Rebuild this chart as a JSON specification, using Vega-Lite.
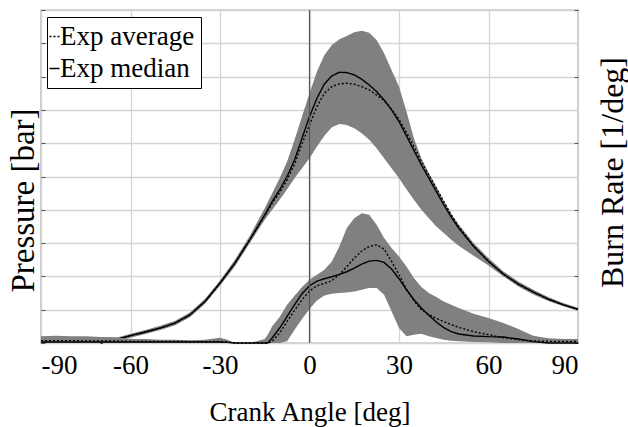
{
  "$schema": "https://vega.github.io/schema/vega-lite/v6.json",
  "width": 537,
  "height": 333,
  "autosize": {"type": "none"},
  "padding": {"left": 41, "top": 10, "right": 50, "bottom": 84},
  "background": "white",
  "config": {
    "font": "Liberation Serif",
    "view": {"stroke": "#555555", "strokeWidth": 1.2},
    "axis": {
      "labelFont": "Liberation Serif",
      "titleFont": "Liberation Serif",
      "labelColor": "black",
      "titleColor": "black",
      "titleFontWeight": "normal",
      "gridColor": "#d4d4d4",
      "gridWidth": 1.3,
      "domain": false,
      "tickColor": "#555555"
    },
    "legend": {
      "labelFont": "Liberation Serif"
    }
  },
  "datasets": {
    "pressure": [
      {"deg": -70, "med": 0, "avg": 0, "lo": 0, "hi": 0.05},
      {"deg": -65, "med": 0.1, "avg": 0.1, "lo": 0.05, "hi": 0.15},
      {"deg": -60, "med": 0.22, "avg": 0.22, "lo": 0.16, "hi": 0.28},
      {"deg": -55, "med": 0.33, "avg": 0.33, "lo": 0.27, "hi": 0.39},
      {"deg": -50, "med": 0.45, "avg": 0.45, "lo": 0.39, "hi": 0.52},
      {"deg": -45, "med": 0.6, "avg": 0.6, "lo": 0.53, "hi": 0.67},
      {"deg": -40, "med": 0.85, "avg": 0.85, "lo": 0.78, "hi": 0.92},
      {"deg": -35, "med": 1.25, "avg": 1.25, "lo": 1.18, "hi": 1.33},
      {"deg": -30, "med": 1.8, "avg": 1.8, "lo": 1.72, "hi": 1.88},
      {"deg": -25, "med": 2.4, "avg": 2.4, "lo": 2.3, "hi": 2.5},
      {"deg": -20, "med": 3.1, "avg": 3.1, "lo": 3.0, "hi": 3.22},
      {"deg": -15, "med": 3.85, "avg": 3.82, "lo": 3.7, "hi": 4.05},
      {"deg": -12.5, "med": 4.25, "avg": 4.2, "lo": 4.0, "hi": 4.5},
      {"deg": -10, "med": 4.6, "avg": 4.52, "lo": 4.3, "hi": 4.95},
      {"deg": -7.5, "med": 5.0, "avg": 4.9, "lo": 4.62, "hi": 5.45},
      {"deg": -5, "med": 5.5, "avg": 5.38, "lo": 4.95, "hi": 6.1},
      {"deg": -2.5, "med": 6.15, "avg": 5.98, "lo": 5.25, "hi": 6.8},
      {"deg": 0, "med": 6.8, "avg": 6.55, "lo": 5.55, "hi": 7.5},
      {"deg": 2.5, "med": 7.35, "avg": 7.1, "lo": 5.9, "hi": 8.15},
      {"deg": 5, "med": 7.78, "avg": 7.5, "lo": 6.22, "hi": 8.65},
      {"deg": 7.5, "med": 8.02, "avg": 7.7, "lo": 6.48, "hi": 8.95},
      {"deg": 10, "med": 8.13, "avg": 7.78, "lo": 6.58, "hi": 9.12},
      {"deg": 12.5, "med": 8.12, "avg": 7.8, "lo": 6.55, "hi": 9.22},
      {"deg": 15, "med": 8.05, "avg": 7.77, "lo": 6.45, "hi": 9.33},
      {"deg": 17.5, "med": 7.92, "avg": 7.7, "lo": 6.3, "hi": 9.38},
      {"deg": 20, "med": 7.75, "avg": 7.6, "lo": 6.1, "hi": 9.32},
      {"deg": 22.5, "med": 7.55, "avg": 7.45, "lo": 5.85, "hi": 9.1},
      {"deg": 25, "med": 7.3, "avg": 7.28, "lo": 5.55, "hi": 8.7},
      {"deg": 27.5, "med": 7.0, "avg": 7.02, "lo": 5.25, "hi": 8.2},
      {"deg": 30, "med": 6.65, "avg": 6.72, "lo": 4.95, "hi": 7.7},
      {"deg": 32.5, "med": 6.22, "avg": 6.32, "lo": 4.62, "hi": 6.95},
      {"deg": 35, "med": 5.78, "avg": 5.9, "lo": 4.3, "hi": 6.15},
      {"deg": 37.5, "med": 5.35, "avg": 5.45, "lo": 4.0, "hi": 5.55},
      {"deg": 40, "med": 4.95, "avg": 5.05, "lo": 3.75, "hi": 5.1},
      {"deg": 42.5, "med": 4.55, "avg": 4.65, "lo": 3.5, "hi": 4.7},
      {"deg": 45, "med": 4.15, "avg": 4.25, "lo": 3.3, "hi": 4.28},
      {"deg": 47.5, "med": 3.78, "avg": 3.85, "lo": 3.1, "hi": 3.88},
      {"deg": 50, "med": 3.45, "avg": 3.5, "lo": 2.92, "hi": 3.56},
      {"deg": 55, "med": 2.9, "avg": 2.92, "lo": 2.62, "hi": 3.0},
      {"deg": 60, "med": 2.45, "avg": 2.45, "lo": 2.33, "hi": 2.55},
      {"deg": 65, "med": 2.07, "avg": 2.07, "lo": 2.0, "hi": 2.15},
      {"deg": 70, "med": 1.77, "avg": 1.77, "lo": 1.7, "hi": 1.85},
      {"deg": 75, "med": 1.53, "avg": 1.53, "lo": 1.46, "hi": 1.6},
      {"deg": 80, "med": 1.32, "avg": 1.32, "lo": 1.26, "hi": 1.38},
      {"deg": 85, "med": 1.15, "avg": 1.15, "lo": 1.1, "hi": 1.2},
      {"deg": 90, "med": 1.01, "avg": 1.01, "lo": 0.97, "hi": 1.06}
    ],
    "burn": [
      {"deg": -90, "med": 0.03, "avg": 0.07, "lo": 0, "hi": 0.2},
      {"deg": -85, "med": 0.03, "avg": 0.07, "lo": 0, "hi": 0.22},
      {"deg": -80, "med": 0.03, "avg": 0.07, "lo": 0, "hi": 0.2},
      {"deg": -75, "med": 0.03, "avg": 0.06, "lo": 0, "hi": 0.2},
      {"deg": -70, "med": 0.03, "avg": 0.06, "lo": 0, "hi": 0.18},
      {"deg": -65, "med": 0.03, "avg": 0.06, "lo": 0, "hi": 0.17},
      {"deg": -60, "med": 0.03, "avg": 0.05, "lo": 0, "hi": 0.12},
      {"deg": -55, "med": 0.03, "avg": 0.05, "lo": 0, "hi": 0.12},
      {"deg": -50, "med": 0.03, "avg": 0.05, "lo": 0, "hi": 0.1},
      {"deg": -45, "med": 0.03, "avg": 0.05, "lo": 0, "hi": 0.1},
      {"deg": -40, "med": 0.03, "avg": 0.04, "lo": 0, "hi": 0.08},
      {"deg": -35, "med": 0.03, "avg": 0.04, "lo": 0, "hi": 0.1},
      {"deg": -30, "med": 0.03, "avg": 0.05, "lo": 0, "hi": 0.16},
      {"deg": -27.5, "med": 0.02, "avg": 0.03, "lo": 0, "hi": 0.1},
      {"deg": -25, "med": 0, "avg": 0, "lo": 0, "hi": 0},
      {"deg": -20, "med": 0, "avg": 0, "lo": 0, "hi": 0},
      {"deg": -15, "med": 0, "avg": 0, "lo": 0, "hi": 0.12},
      {"deg": -14, "med": 0, "avg": 0, "lo": 0, "hi": 0.25},
      {"deg": -12.5, "med": 0.15, "avg": 0.05, "lo": 0, "hi": 0.5},
      {"deg": -10, "med": 0.45, "avg": 0.3, "lo": 0, "hi": 0.78},
      {"deg": -7.5, "med": 0.8, "avg": 0.65, "lo": 0.05, "hi": 1.15},
      {"deg": -5, "med": 1.15, "avg": 0.98, "lo": 0.4, "hi": 1.42},
      {"deg": -2.5, "med": 1.48, "avg": 1.3, "lo": 0.72, "hi": 1.68},
      {"deg": 0, "med": 1.72, "avg": 1.56, "lo": 1.02, "hi": 1.9},
      {"deg": 2.5, "med": 1.86, "avg": 1.72, "lo": 1.28, "hi": 2.05},
      {"deg": 5, "med": 1.93, "avg": 1.79, "lo": 1.43, "hi": 2.2},
      {"deg": 7.5, "med": 1.99, "avg": 1.87, "lo": 1.48, "hi": 2.45},
      {"deg": 10, "med": 2.06, "avg": 2.05, "lo": 1.5, "hi": 2.9},
      {"deg": 12.5, "med": 2.14, "avg": 2.29, "lo": 1.52, "hi": 3.45},
      {"deg": 15, "med": 2.25, "avg": 2.55, "lo": 1.55, "hi": 3.75},
      {"deg": 17.5, "med": 2.37, "avg": 2.76, "lo": 1.6, "hi": 3.9},
      {"deg": 20, "med": 2.46, "avg": 2.9, "lo": 1.65, "hi": 3.85},
      {"deg": 22.5, "med": 2.48, "avg": 2.95, "lo": 1.65, "hi": 3.55},
      {"deg": 25, "med": 2.42, "avg": 2.82, "lo": 1.45, "hi": 3.15},
      {"deg": 27.5, "med": 2.22, "avg": 2.45, "lo": 0.95, "hi": 2.85},
      {"deg": 30, "med": 1.93, "avg": 2.05, "lo": 0.45, "hi": 2.6},
      {"deg": 32.5, "med": 1.6, "avg": 1.62, "lo": 0.2, "hi": 2.3},
      {"deg": 35, "med": 1.3, "avg": 1.27, "lo": 0.25, "hi": 1.95},
      {"deg": 37.5, "med": 1.05, "avg": 1.0, "lo": 0.28, "hi": 1.68},
      {"deg": 40, "med": 0.83, "avg": 0.85, "lo": 0.2, "hi": 1.5},
      {"deg": 42.5, "med": 0.63, "avg": 0.74, "lo": 0.15, "hi": 1.38},
      {"deg": 45, "med": 0.46, "avg": 0.64, "lo": 0.1, "hi": 1.25},
      {"deg": 47.5, "med": 0.34, "avg": 0.55, "lo": 0.07, "hi": 1.15},
      {"deg": 50, "med": 0.27, "avg": 0.47, "lo": 0.05, "hi": 1.05},
      {"deg": 55, "med": 0.21, "avg": 0.34, "lo": 0.03, "hi": 0.88},
      {"deg": 60, "med": 0.19, "avg": 0.25, "lo": 0.02, "hi": 0.75},
      {"deg": 65, "med": 0.18, "avg": 0.16, "lo": 0, "hi": 0.6},
      {"deg": 70, "med": 0.12, "avg": 0.1, "lo": 0, "hi": 0.42},
      {"deg": 75, "med": 0.04, "avg": 0.06, "lo": 0, "hi": 0.22},
      {"deg": 80, "med": 0, "avg": 0.05, "lo": 0, "hi": 0.14},
      {"deg": 85, "med": 0, "avg": 0.05, "lo": 0, "hi": 0.12},
      {"deg": 90, "med": 0, "avg": 0.05, "lo": 0, "hi": 0.12}
    ]
  },
  "layer": [
    {
      "layer": [
        {
          "data": {"name": "pressure"},
          "mark": {"type": "area", "color": "#808080", "opacity": 1},
          "encoding": {
            "x": {"field": "deg", "type": "quantitative", "scale": {"domain": [-90, 90], "nice": false},
              "axis": {"title": "Crank Angle [deg]", "values": [-90, -60, -30, 0, 30, 60, 90], "grid": true, "ticks": false, "tickSize": 0, "labelFontSize": 27, "labelPadding": 9, "labelExpr": "'' + datum.value", "titleFontSize": 27, "titleY": 77, "titleBaseline": "alphabetic"}},
            "y": {"field": "lo", "type": "quantitative", "scale": {"domain": [0, 10], "nice": false},
              "axis": {"title": "Pressure [bar]", "values": [0, 1, 2, 3, 4, 5, 6, 7, 8, 9, 10], "labels": false, "grid": true, "ticks": true, "tickSize": -4, "titleFontSize": 33, "titleX": -8, "titleY": 190, "titleAngle": 270, "titleBaseline": "alphabetic", "titleAlign": "center"}},
            "y2": {"field": "hi"}
          }
        },
        {
          "data": {"name": "pressure"},
          "transform": [{"fold": ["avg", "med"], "as": ["stat", "val"]}],
          "mark": {"type": "line", "color": "black", "strokeWidth": 1.4},
          "encoding": {
            "x": {"field": "deg", "type": "quantitative"},
            "y": {"field": "val", "type": "quantitative",
              "axis": {"title": "Pressure [bar]", "values": [0, 1, 2, 3, 4, 5, 6, 7, 8, 9, 10], "labels": false, "grid": true, "ticks": true, "tickSize": -4, "titleFontSize": 33, "titleX": -8, "titleY": 190, "titleAngle": 270, "titleBaseline": "alphabetic", "titleAlign": "center"}},
            "strokeDash": {"field": "stat", "type": "nominal",
              "scale": {"domain": ["avg", "med"], "range": [[2, 2], [1, 0]]},
              "legend": {"title": null, "orient": "none", "legendX": 6, "legendY": 7, "fillColor": "white", "strokeColor": "black", "padding": 6, "rowPadding": 4, "labelFontSize": 27, "labelOffset": -8, "symbolOffset": -12, "labelColor": "black", "symbolType": "stroke", "symbolSize": 100, "symbolStrokeWidth": 1.4, "symbolStrokeColor": "black",
                "labelExpr": "datum.label == 'avg' ? 'Exp average' : 'Exp median'"}}
          }
        }
      ]
    },
    {
      "layer": [
        {
          "data": {"name": "burn"},
          "mark": {"type": "area", "color": "#808080", "opacity": 1},
          "encoding": {
            "x": {"field": "deg", "type": "quantitative"},
            "y": {"field": "lo", "type": "quantitative", "scale": {"domain": [0, 10], "nice": false},
              "axis": {"title": "Burn Rate [1/deg]", "orient": "right", "values": [0, 2, 4, 6, 8, 10], "labels": false, "grid": false, "ticks": true, "tickSize": -4, "titleFontSize": 32, "titleX": 44, "titleY": 162, "titleAngle": 270, "titleBaseline": "alphabetic", "titleAlign": "center"}},
            "y2": {"field": "hi"}
          }
        },
        {
          "data": {"name": "burn"},
          "mark": {"type": "line", "color": "black", "strokeWidth": 1.4, "strokeDash": [2, 2]},
          "encoding": {
            "x": {"field": "deg", "type": "quantitative"},
            "y": {"field": "avg", "type": "quantitative"}
          }
        },
        {
          "data": {"name": "burn"},
          "mark": {"type": "line", "color": "black", "strokeWidth": 1.4},
          "encoding": {
            "x": {"field": "deg", "type": "quantitative"},
            "y": {"field": "med", "type": "quantitative"}
          }
        }
      ]
    },
    {
      "data": {"values": [{"deg": 0}]},
      "mark": {"type": "rule", "color": "#555555", "strokeWidth": 1.2},
      "encoding": {
        "x": {"field": "deg", "type": "quantitative"}
      }
    }
  ],
  "resolve": {"scale": {"y": "independent"}, "axis": {"y": "independent"}}
}
